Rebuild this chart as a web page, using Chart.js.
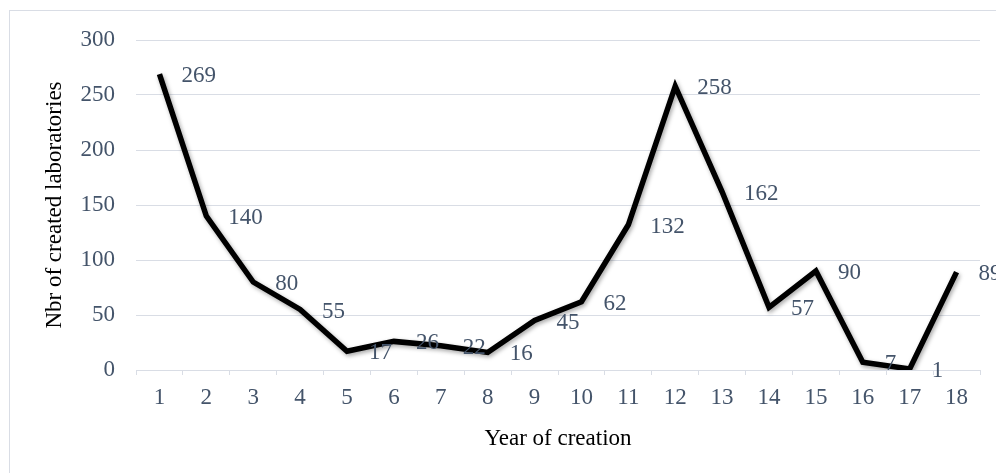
<!DOCTYPE html>
<html>
<head>
<meta charset="utf-8">
<script src="https://cdn.jsdelivr.net/npm/chart.js@4.4.0/dist/chart.umd.min.js"></script>
<style>
  html, body { margin: 0; padding: 0; background: #fff; }
  #wrap { position: relative; width: 996px; height: 473px; }
</style>
</head>
<body>
<div id="wrap"><canvas id="chart"></canvas></div>
<script>
const years = ["1","2","3","4","5","6","7","8","9","10","11","12","13","14","15","16","17","18"];
const labsCreated = [269, 140, 80, 55, 17, 26, 22, 16, 45, 62, 132, 258, 162, 57, 90, 7, 1, 89];
const yTicks = [0, 50, 100, 150, 200, 250, 300];

const serif = "'Liberation Serif', 'Times New Roman', serif";
const tickColor = "#44546a";
const gridColor = "#d9dde5";
const fontSize = 23;

// light frame around the chart, like the office export
const framePlugin = {
    id: "frame",
    beforeDraw(chart) {
        const ctx = chart.ctx;
        ctx.save();
        ctx.strokeStyle = gridColor;
        ctx.lineWidth = 1;
        ctx.strokeRect(9.5, 10.5, 1100, 600);
        ctx.restore();
    }
};

// soft shadow under the line
const shadowPlugin = {
    id: "shadow",
    beforeDatasetDraw(chart) {
        const ctx = chart.ctx;
        ctx.save();
        ctx.shadowColor = "rgba(0,0,0,0.35)";
        ctx.shadowBlur = 4;
        ctx.shadowOffsetX = 1.5;
        ctx.shadowOffsetY = 2;
    },
    afterDatasetDraw(chart) {
        chart.ctx.restore();
    }
};

// value labels to the right of each point
const valueLabels = {
    id: "valueLabels",
    afterDatasetsDraw(chart) {
        const ctx = chart.ctx;
        const meta = chart.getDatasetMeta(0);
        ctx.save();
        ctx.font = fontSize + "px " + serif;
        ctx.fillStyle = tickColor;
        ctx.textAlign = "left";
        ctx.textBaseline = "middle";
        meta.data.forEach((pt, i) => {
            ctx.fillText(String(labsCreated[i]), pt.x + 22, pt.y + 2);
        });
        ctx.restore();
    }
};

new Chart(document.getElementById("chart"), {
    type: "line",
    data: {
        labels: years,
        datasets: [{
            label: "Nbr of created laboratories",
            data: labsCreated,
            borderColor: "#000000",
            borderWidth: 5.5,
            pointRadius: 0,
            tension: 0,
            borderJoinStyle: "miter"
        }]
    },
    options: {
        responsive: true,
        maintainAspectRatio: false,
        animation: false,
        layout: { padding: { left: 0, right: 16, top: 40, bottom: 0 } },
        plugins: {
            legend: { display: false },
            tooltip: { enabled: false }
        },
        scales: {
            x: {
                type: "category",
                offset: true,
                afterFit: s => { s.height = 103; },
                grid: {
                    offset: true,
                    drawOnChartArea: false,
                    color: gridColor,
                    tickLength: 5
                },
                border: { color: gridColor, width: 1 },
                ticks: {
                    color: tickColor,
                    font: { family: serif, size: fontSize },
                    padding: 9,
                    maxRotation: 0,
                    autoSkip: false
                },
                title: {
                    display: true,
                    text: "Year of creation",
                    color: "#000",
                    font: { family: serif, size: fontSize },
                    padding: { top: 0, bottom: 20 }
                }
            },
            y: {
                min: 0,
                max: 300,
                afterFit: s => { s.width = 136; },
                afterBuildTicks: s => { s.ticks = yTicks.map(v => ({ value: v })); },
                grid: { color: gridColor, drawTicks: false },
                border: { display: false },
                ticks: {
                    color: tickColor,
                    font: { family: serif, size: fontSize },
                    padding: 21
                },
                title: {
                    display: true,
                    text: "Nbr of created laboratories",
                    color: "#000",
                    font: { family: serif, size: fontSize },
                    padding: { top: 41, bottom: 0 }
                }
            }
        }
    },
    plugins: [framePlugin, shadowPlugin, valueLabels]
});
</script>
</body>
</html>
